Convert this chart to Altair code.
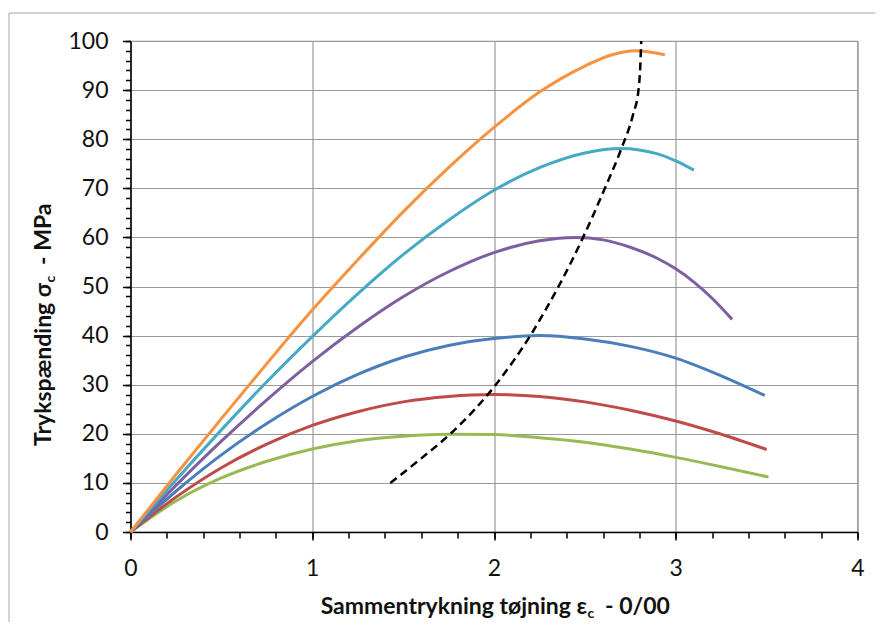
import altair as alt
import pandas as pd

# ---- data ----
names = ["green", "red", "blue", "purple", "teal", "orange"]
colors = ["#98B954", "#BE4B48", "#4A7EBB", "#7D60A0", "#46AAC5", "#F69240"]

x_green = [0, 0.25, 0.5, 0.75, 1.0, 1.25, 1.5, 1.75, 2.0, 2.25, 2.5, 2.75, 3.0, 3.25, 3.51]
y_green = [0, 6.3, 11.0, 14.4, 16.9, 18.6, 19.5, 19.9, 19.85, 19.2, 18.3, 16.9, 15.2, 13.3, 11.2]

x_red = [0, 0.25, 0.5, 0.75, 1.0, 1.25, 1.5, 1.75, 2.0, 2.25, 2.5, 2.75, 3.0, 3.25, 3.5]
y_red = [0, 7.1, 13.1, 17.9, 21.7, 24.5, 26.5, 27.6, 28.0, 27.6, 26.5, 24.8, 22.6, 19.9, 16.8]

x_blue = [0, 0.25, 0.5, 0.75, 1.0, 1.25, 1.5, 1.75, 2.0, 2.25, 2.5, 2.75, 3.0, 3.25, 3.49]
y_blue = [0, 8.3, 15.7, 22.1, 27.6, 32.1, 35.6, 38.0, 39.4, 40.0, 39.3, 37.8, 35.4, 31.8, 27.8]

x_purple = [0, 0.25, 0.5, 0.75, 1.0, 1.25, 1.5, 1.75, 2.0, 2.25, 2.45, 2.6, 2.75, 2.9, 3.0, 3.1, 3.2, 3.31]
y_purple = [0, 9.5, 18.5, 26.9, 34.7, 41.7, 47.9, 53.0, 56.9, 59.3, 60.0, 59.5, 58.0, 55.7, 53.6, 50.9, 47.6, 43.3]

x_teal = [0, 0.25, 0.5, 0.75, 1.0, 1.25, 1.5, 1.75, 2.0, 2.25, 2.5, 2.7, 2.8, 2.9, 3.0, 3.1]
y_teal = [0, 10.6, 20.8, 30.6, 39.8, 48.5, 56.5, 63.5, 69.6, 74.2, 77.2, 78.1, 77.8, 77.0, 75.6, 73.7]

x_orange = [0, 0.25, 0.5, 0.75, 1.0, 1.25, 1.5, 1.75, 2.0, 2.25, 2.5, 2.65, 2.78, 2.94]
y_orange = [0, 11.7, 23.1, 34.3, 45.2, 55.4, 65.2, 74.2, 82.4, 89.6, 94.9, 97.2, 98.0, 97.2]

x_dash = [1.43, 1.60, 1.76, 1.895, 2.01, 2.11, 2.20, 2.28, 2.355, 2.425, 2.49, 2.61, 2.70, 2.765, 2.795, 2.805, 2.81]
y_dash = [10, 15, 20, 25, 30, 35, 40, 45, 50, 55, 60, 70, 78, 85, 90, 95, 100]

x_major = [0, 1, 2, 3, 4]
x_minor = [round(0.2 * i, 1) for i in range(21)]
y_major = [0, 10, 20, 30, 40, 50, 60, 70, 80, 90, 100]
y_minor = list(range(0, 101, 2))

xs_all = [x_green, x_red, x_blue, x_purple, x_teal, x_orange]
ys_all = [y_green, y_red, y_blue, y_purple, y_teal, y_orange]
rows = []
for n, xv, yv in zip(names, xs_all, ys_all):
    for a, b in zip(xv, yv):
        rows.append({"serie": n, "x": a, "y": b})
df = pd.DataFrame(rows)
df_dash = pd.DataFrame({"x": x_dash, "y": y_dash})
one = pd.DataFrame({"a": [0]})

W, H = 727, 491
xsc = alt.Scale(domain=[0, 4], nice=False, zero=False)
ysc = alt.Scale(domain=[0, 100], nice=False, zero=False)

curves = alt.Chart(df).mark_line(strokeWidth=3, interpolate="monotone").encode(
    x=alt.X("x:Q", scale=xsc, axis=alt.Axis(values=x_major, format="d", title=None, grid=True,
                                             labelFlush=False, orient="bottom", tickSize=8,
                                             labelPadding=17)),
    y=alt.Y("y:Q", scale=ysc, axis=alt.Axis(values=y_major, format="d", title=None, grid=True,
                                             labelFlush=False, orient="left", tickSize=8,
                                             labelPadding=14.5)),
    color=alt.Color("serie:N", scale=alt.Scale(domain=names, range=colors), legend=None),
)

dashed = alt.Chart(df_dash).mark_line(strokeWidth=2.5, color="black", strokeDash=[8, 5],
                                      interpolate="monotone").encode(
    x=alt.X("x:Q", scale=xsc, axis=alt.Axis(values=x_minor, labels=False, domain=False, grid=False,
                                             title=None, orient="bottom", tickSize=6)),
    y=alt.Y("y:Q", scale=ysc, axis=alt.Axis(values=y_minor, labels=False, domain=False, grid=False,
                                             title=None, orient="left", tickSize=5)),
)

tfont = "Lato"
tsize = 23
ssize = 14
tcol = "#111111"


def txt(s, size, align, angle, x, y):
    kw = dict(text=s, font=tfont, fontWeight="bold", fontSize=size, align=align,
              baseline="alphabetic", color=tcol)
    if angle:
        kw["angle"] = angle
    return alt.Chart(one).mark_text(**kw).encode(x=alt.value(x), y=alt.value(y))


xt1 = txt("Sammentrykning tøjning ε", tsize, "right", 0, 456.5, 573)
xt2 = txt("c", ssize, "left", 0, 457, 577)
xt3 = txt("-  0/00", tsize, "left", 0, 474.5, 573)

yt1 = txt("Trykspænding σ", tsize, "right", 270, -79.5, 242)
yt2 = txt("c", ssize, "left", 270, -75.5, 241.5)
yt3 = txt("-  MPa", tsize, "left", 270, -79.5, 224)

border_v = alt.Chart(one).mark_rule(color="#a6a6a6", strokeWidth=1).encode(
    x=alt.value(-121.5), y=alt.value(-28), y2=alt.value(588))
border_h = alt.Chart(one).mark_rule(color="#a6a6a6", strokeWidth=1).encode(
    x=alt.value(-121.5), x2=alt.value(745), y=alt.value(-28))

chart = alt.layer(
    curves, dashed, xt1, xt2, xt3, yt1, yt2, yt3, border_v, border_h
).resolve_axis(x="independent", y="independent").properties(
    width=W, height=H,
    autosize=alt.AutoSizeParams(type="none"),
    padding={"left": 122.5, "top": 33, "right": 18, "bottom": 90},
).configure_axis(
    domainColor="black", domainWidth=1.5, tickColor="black", tickWidth=1.5,
    gridColor="#999999", gridWidth=1.2, labelFont="Lato", labelFontSize=23, labelColor="#111",
).configure_view(stroke="#999999", strokeWidth=1.2)

chart.save("out.html", embed_options={"renderer": "svg", "actions": False})
